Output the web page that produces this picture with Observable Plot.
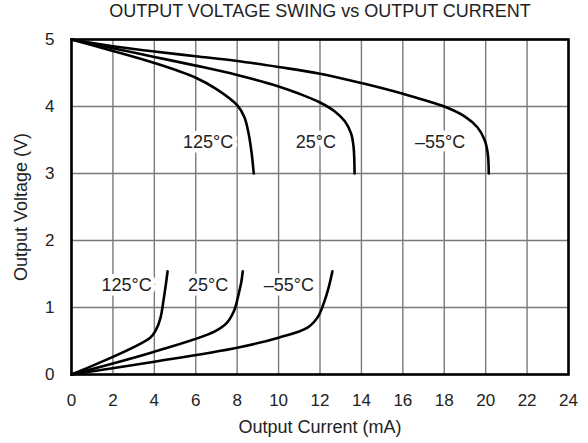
<!DOCTYPE html>
<html><head><meta charset="utf-8">
<script src="https://cdn.jsdelivr.net/npm/d3@7"></script>
<script src="https://cdn.jsdelivr.net/npm/@observablehq/plot@0.6"></script>
<style>
body{margin:0;background:#fff}
svg{font-family:"Liberation Sans",Arial,Helvetica,sans-serif}
</style>
</head><body><div id="chart"></div>
<script>
const title = "OUTPUT VOLTAGE SWING vs OUTPUT CURRENT";
const xLabel = "Output Current (mA)";
const yLabel = "Output Voltage (V)";
const xTicks = [0, 2, 4, 6, 8, 10, 12, 14, 16, 18, 20, 22, 24];
const yTicks = [0, 1, 2, 3, 4, 5];

// High-side (output high) curves: [current mA, voltage V]
const highM55 = [[0,5],[2,4.9],[4,4.82],[6,4.75],[8,4.68],[10,4.59],[12,4.49],[14,4.35],[16,4.19],[18,4.0],[19,3.85],[19.6,3.69],[19.95,3.5],[20.1,3.3],[20.15,3.0]];
const high25 = [[0,5],[2,4.87],[4,4.74],[6,4.61],[8,4.47],[10,4.3],[11,4.19],[12,4.06],[12.7,3.93],[13.2,3.78],[13.5,3.6],[13.62,3.4],[13.67,3.0]];
const high125 = [[0,5],[2,4.83],[4,4.65],[6,4.43],[7,4.26],[8,4.02],[8.35,3.84],[8.55,3.6],[8.7,3.3],[8.8,3.0]];
// Low-side (output low) curves
const low125 = [[0,0],[3.8,0.55],[4.1,0.68],[4.3,0.85],[4.44,1.1],[4.55,1.33],[4.64,1.54]];
const low25 = [[0,0],[4,0.34],[6.9,0.64],[7.5,0.77],[7.85,0.95],[8.07,1.2],[8.2,1.38],[8.27,1.54]];
const lowM55 = [[0,0],[4,0.19],[8,0.4],[10,0.55],[11.4,0.7],[11.9,0.86],[12.2,1.08],[12.42,1.3],[12.6,1.54]];

const labelText = ["125°C", "25°C", "–55°C", "125°C", "25°C", "–55°C"];
const labelX = [6.6, 11.8, 17.8, 2.66, 6.6, 10.5];
const labelY = [3.46, 3.46, 3.46, 1.33, 1.33, 1.33];

const seriesList = [
  ["highM55", highM55], ["high25", high25], ["high125", high125],
  ["low125", low125], ["low25", low25], ["lowM55", lowM55]
];
const lineData = seriesList.flatMap(([name, pts]) => pts.map(([x, y]) => ({series: name, x, y})));
const labels = labelText.map((t, i) => ({text: t, x: labelX[i], y: labelY[i]}));

const chart = Plot.plot({
  width: 588,
  height: 443,
  marginLeft: 71,
  marginRight: 20,
  marginTop: 39,
  marginBottom: 69,
  style: {fontFamily: '"Liberation Sans", Arial, sans-serif', fontSize: "17px", color: "#222", background: "#fff"},
  x: {domain: [0, 24], ticks: xTicks, tickSize: 0, tickPadding: 19, label: null, tickFormat: d3.format("d")},
  y: {domain: [0, 5], ticks: yTicks, tickSize: 0, tickPadding: 17, label: null, tickFormat: d3.format("d")},
  marks: [
    Plot.ruleX(xTicks, {stroke: "#7a7a7a", strokeWidth: 1.4}),
    Plot.ruleY(yTicks, {stroke: "#7a7a7a", strokeWidth: 1.4}),
    Plot.text(labels, {x: "x", y: "y", text: "text", fontSize: 18, fill: "#222",
      stroke: "white", strokeWidth: 9, strokeLinejoin: "round", paintOrder: "stroke"}),
    Plot.line(lineData, {x: "x", y: "y", z: "series", stroke: "black", strokeWidth: 2.6, curve: "catmull-rom"}),
    Plot.frame({stroke: "black", strokeWidth: 2.6}),
    Plot.text([title], {frameAnchor: "top", dy: -28, fontSize: 18, lineAnchor: "middle", fill: "#222"}),
    Plot.text([xLabel], {frameAnchor: "bottom", dy: 53, fontSize: 18, lineAnchor: "middle", fill: "#222"}),
    Plot.text([yLabel], {frameAnchor: "left", dx: -50, rotate: -90, fontSize: 18, lineAnchor: "middle", textAnchor: "middle", fill: "#222"})
  ]
});
document.getElementById("chart").appendChild(chart);
</script>
</body></html>
